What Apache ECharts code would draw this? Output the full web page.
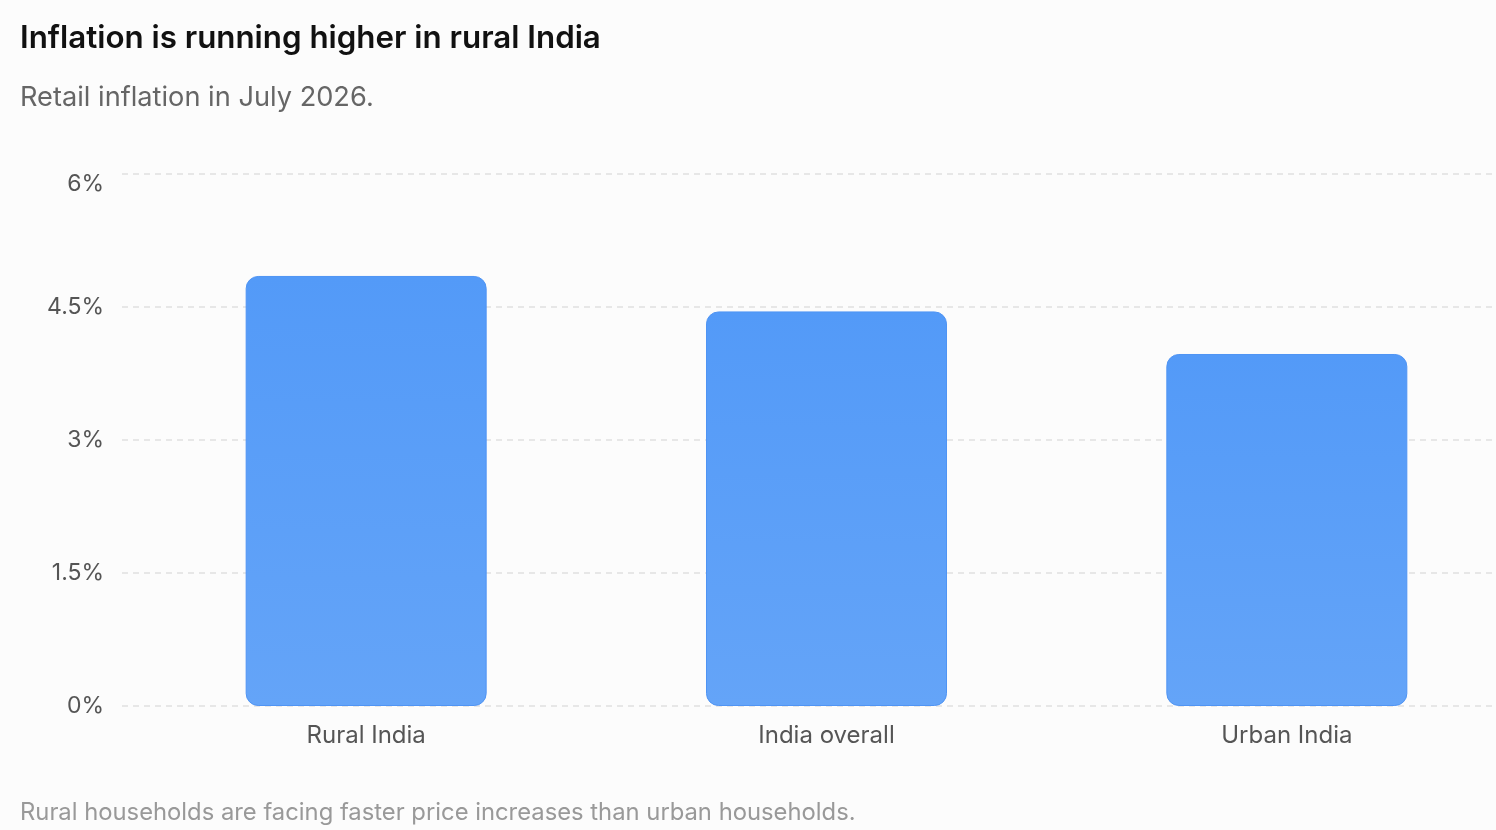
<!DOCTYPE html>
<html>
<head>
<meta charset="utf-8">
<script src="https://cdn.jsdelivr.net/npm/echarts@6/dist/echarts.min.js"></script>
<style>
html,body{margin:0;padding:0;background:#fcfcfc;}
#chart{width:1496px;height:830px;}
</style>
</head>
<body>
<div id="chart"></div>
<script>
const categories = ["Rural India", "India overall", "Urban India"];
const inflationValues = [4.85, 4.45, 3.97];
const yTicks = [0, 1.5, 3, 4.5, 6];

const FONT = "Inter, 'Noto Sans', sans-serif";
const chart = echarts.init(document.getElementById('chart'));
const TOP = 174, BOTTOM = 124;
const yMax = yTicks[yTicks.length - 1];
chart.setOption({
  backgroundColor: '#fcfcfc',
  animation: false,
  graphic: [
    { type: 'text', left: 20, top: 23, style: { text: 'Inflation is running higher in rural India',
      font: "600 31.3px " + FONT, fill: '#111' } },
    { type: 'text', left: 20, top: 84, style: { text: 'Retail inflation in July 2026.',
      font: "400 27.2px " + FONT, fill: '#666' } },
    { type: 'text', left: 20, top: 801, style: { text: 'Rural households are facing faster price increases than urban households.',
      font: "400 23.8px " + FONT, fill: '#999' } }
  ],
  grid: [
    { left: 122, right: 0, top: TOP, bottom: BOTTOM, outerBoundsMode: 'none' },
    { left: 136, width: 1381, top: TOP, bottom: BOTTOM, outerBoundsMode: 'none' }
  ],
  xAxis: [
    { gridIndex: 0, type: 'category', data: categories, show: false },
    { gridIndex: 1, type: 'category', data: categories,
      axisLine: { show: false }, axisTick: { show: false },
      axisLabel: { fontFamily: FONT, fontSize: 24, color: '#555', margin: 18 } }
  ],
  yAxis: [
    { gridIndex: 0, type: 'value', min: yTicks[0], max: yMax, interval: 1.5,
      axisLine: { show: false }, axisTick: { show: false },
      axisLabel: { fontFamily: FONT, fontSize: 23, color: '#555', margin: 18,
        formatter: v => v === yMax ? '{t|' + v + '%}' : v + '%',
        rich: { t: { fontFamily: FONT, fontSize: 23, color: '#555', padding: [20, 0, 0, 0] } } },
      splitLine: { lineStyle: { color: '#e0e0e0', type: [6, 5], width: 1.5 } } },
    { gridIndex: 1, type: 'value', min: yTicks[0], max: yMax, interval: 1.5,
      show: false, splitLine: { show: false } }
  ],
  series: [{
    type: 'bar', xAxisIndex: 1, yAxisIndex: 1,
    data: inflationValues,
    barWidth: 241,
    itemStyle: {
      borderRadius: 12,
      borderColor: '#4f94f4',
      borderWidth: 1,
      color: new echarts.graphic.LinearGradient(0, 0, 0, 1, [
        { offset: 0, color: '#539af8' },
        { offset: 1, color: '#64a4f8' }
      ])
    }
  }]
});
</script>
</body>
</html>
